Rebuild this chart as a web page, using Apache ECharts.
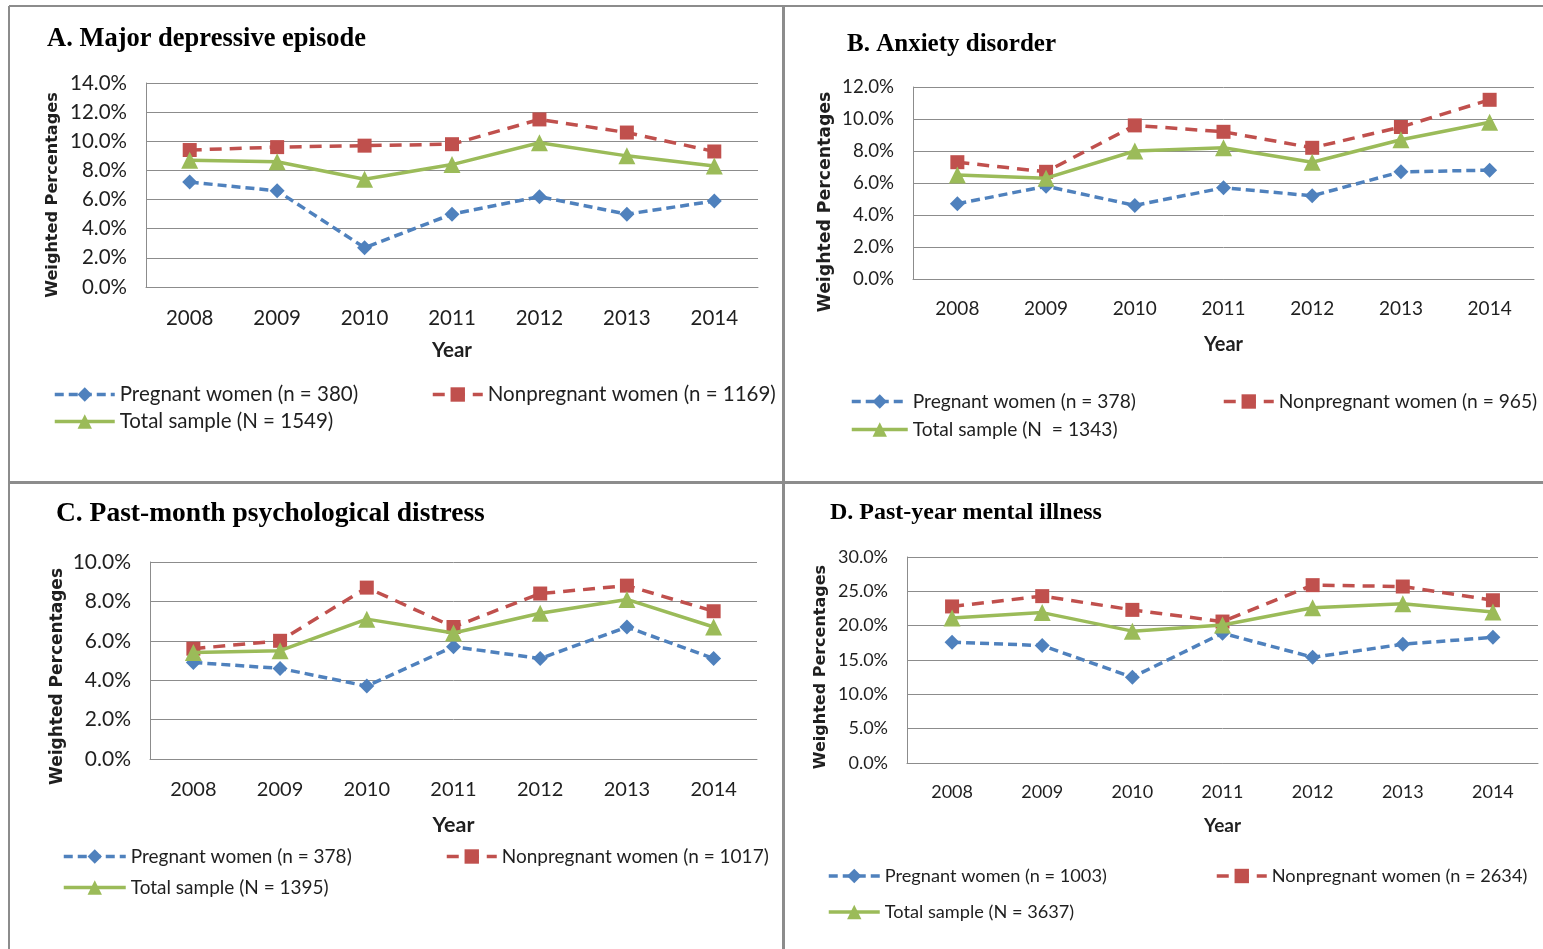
<!DOCTYPE html>
<html>
<head>
<meta charset="utf-8">
<style>
  html, body { margin: 0; padding: 0; background: #fff; }
  #container { width: 1543px; height: 949px; }
</style>
<script src="https://cdn.jsdelivr.net/npm/echarts@6/dist/echarts.min.js"></script>
</head>
<body>
<div id="container"></div>
<script>
var years = ['2008', '2009', '2010', '2011', '2012', '2013', '2014'];

// A. Major depressive episode
var pregA = [7.2, 6.6, 2.7, 5.0, 6.2, 5.0, 5.9];
var nonA = [9.4, 9.6, 9.7, 9.8, 11.5, 10.6, 9.3];
var totA = [8.7, 8.6, 7.4, 8.4, 9.9, 9.0, 8.3];
// B. Anxiety disorder
var pregB = [4.7, 5.8, 4.6, 5.7, 5.2, 6.7, 6.8];
var nonB = [7.3, 6.7, 9.6, 9.2, 8.2, 9.5, 11.2];
var totB = [6.5, 6.3, 8.0, 8.2, 7.3, 8.7, 9.8];
// C. Past-month psychological distress
var pregC = [4.9, 4.6, 3.7, 5.7, 5.1, 6.7, 5.1];
var nonC = [5.6, 6.0, 8.7, 6.7, 8.4, 8.8, 7.5];
var totC = [5.4, 5.5, 7.1, 6.4, 7.4, 8.1, 6.7];
// D. Past-year mental illness
var pregD = [17.6, 17.1, 12.5, 18.9, 15.4, 17.3, 18.3];
var nonD = [22.8, 24.3, 22.3, 20.6, 25.9, 25.7, 23.7];
var totD = [21.1, 21.9, 19.2, 20.1, 22.6, 23.2, 22.0];

var titles = ['A. Major depressive episode', 'B. Anxiety disorder',
  'C. Past-month psychological distress', 'D. Past-year mental illness'];
var legendNames = [
  ['Pregnant women (n = 380)', 'Nonpregnant women (n = 1169)', 'Total sample (N = 1549)'],
  ['Pregnant women (n = 378)', 'Nonpregnant women (n = 965)', 'Total sample (N  = 1343)'],
  ['Pregnant women (n = 378) ', 'Nonpregnant women (n = 1017)', 'Total sample (N = 1395)'],
  ['Pregnant women (n = 1003)', 'Nonpregnant women (n = 2634)', 'Total sample (N = 3637)']
];
var yMax = [14, 12, 10, 30];
var yStep = [2, 2, 2, 5];

var panelData = [[pregA, nonA, totA], [pregB, nonB, totB], [pregC, nonC, totC], [pregD, nonD, totD]];

// layout per panel (the four source panels were scaled a little differently)
var layout = [
  { grid: { left: 146, top: 83, width: 612, height: 204 }, title: [47, 26], titleSize: 26.5,
    tick: 20.5, yTick: 20.5, yName: 16.1, nameGap: 85, nameShift: 20, xMargin: 21, yearSize: 20.5, yearGap: 53,
    legSize: 20.5, leg: [[53, 384, 60], [431, 384, 50], [53, 411, 60]] },
  { grid: { left: 913, top: 87, width: 621, height: 192 }, title: [847, 32], titleSize: 25,
    tick: 19, yTick: 18.7, yName: 17.3, nameGap: 79, nameShift: 38, xMargin: 20, yearSize: 20, yearGap: 56,
    legSize: 19.2, leg: [[850, 392, 56], [1222, 392, 50], [850, 420, 56]] },
  { grid: { left: 150, top: 562, width: 607, height: 197 }, title: [56, 500], titleSize: 27.5,
    tick: 20, yTick: 21, yName: 17, nameGap: 84, nameShift: 32, xMargin: 21, yearSize: 21.5, yearGap: 55,
    legSize: 19, leg: [[62, 847, 62], [445, 847, 50], [62, 878, 62]] },
  { grid: { left: 907, top: 557, width: 631, height: 206 }, title: [830, 501], titleSize: 24,
    tick: 18, yTick: 18, yName: 16, nameGap: 78, nameShift: 14, xMargin: 20, yearSize: 19, yearGap: 53,
    legSize: 18.2, leg: [[827, 867, 51], [1215, 867, 50], [827, 903, 51]] }
];

var colors = ['#4F81BD', '#C0504D', '#9BBB59'];
var symbols = ['diamond', 'rect', 'triangle'];
var symbolSizes = [15, 14, 17];
var dashes = [[9, 5], [12, 8], 'solid'];
var textColor = '#1f1f1f';
var gridColor = '#8c8c8c';

var option = {
  backgroundColor: '#fff',
  animation: false,
  title: [],
  grid: [],
  xAxis: [],
  yAxis: [],
  legend: [],
  series: [],
  graphic: [
    { type: 'line', shape: { x1: 9, y1: 6, x2: 9, y2: 949 }, style: { stroke: '#8c8c8c', lineWidth: 2 } },
    { type: 'line', shape: { x1: 9, y1: 6, x2: 1543, y2: 6 }, style: { stroke: '#8c8c8c', lineWidth: 2 } },
    { type: 'line', shape: { x1: 783.5, y1: 6, x2: 783.5, y2: 949 }, style: { stroke: '#8c8c8c', lineWidth: 3 } },
    { type: 'line', shape: { x1: 9, y1: 482.5, x2: 1543, y2: 482.5 }, style: { stroke: '#8c8c8c', lineWidth: 3 } }
  ]
};

for (var p = 0; p < 4; p++) {
  var L = layout[p];
  option.title.push({
    text: titles[p], left: L.title[0], top: L.title[1], padding: 0,
    textStyle: { fontFamily: 'Liberation Serif', fontWeight: 'bold', fontSize: L.titleSize, color: '#000' }
  });
  option.grid.push(L.grid);
  option.xAxis.push({
    type: 'category', gridIndex: p, data: years, boundaryGap: true,
    name: 'Year', nameLocation: 'middle', nameGap: L.yearGap,
    nameTextStyle: { fontFamily: 'Lato', fontWeight: 'bold', fontSize: L.yearSize, color: textColor },
    axisLine: { lineStyle: { color: gridColor, width: 1 } },
    axisTick: { show: false },
    axisLabel: { margin: L.xMargin, fontFamily: 'Lato', fontSize: L.tick, color: textColor }
  });
  option.yAxis.push({
    type: 'value', gridIndex: p, min: 0, max: yMax[p], interval: yStep[p],
    name: 'Weighted Percentages', nameLocation: 'middle', nameGap: L.nameGap, nameRotate: 90,
    nameTextStyle: {
      fontFamily: 'DejaVu Sans', fontWeight: 'bold', fontSize: L.yName, color: textColor,
      padding: [0, L.nameShift, 0, 0]
    },
    axisLine: { show: true, lineStyle: { color: gridColor, width: 1 } },
    axisTick: { show: false },
    splitLine: { lineStyle: { color: gridColor, width: 1 } },
    axisLabel: {
      margin: 19, fontFamily: 'Lato', fontSize: L.yTick, color: textColor,
      formatter: function (v) { return v.toFixed(1) + '%'; }
    }
  });
  for (var s = 0; s < 3; s++) {
    var nm = legendNames[p][s];
    option.series.push({
      name: nm, type: 'line', xAxisIndex: p, yAxisIndex: p,
      data: panelData[p][s],
      symbol: symbols[s], symbolSize: symbolSizes[s],
      itemStyle: { color: colors[s] },
      lineStyle: { color: colors[s], width: 3.5, type: dashes[s] },
      z: s === 1 ? 3 : (s === 2 ? 4 : 2)
    });
    option.legend.push({
      data: [nm], left: L.leg[s][0], top: L.leg[s][1], padding: 0,
      itemWidth: L.leg[s][2], itemHeight: 18, itemGap: 0,
      lineStyle: { width: 3.5 },
      textStyle: { fontFamily: 'Lato', fontSize: L.legSize, color: textColor },
      selectedMode: false
    });
  }
}

var dom = document.getElementById('container');
var myChart = echarts.init(dom, null, { renderer: 'canvas' });
myChart.setOption(option);
window.addEventListener('resize', myChart.resize);
</script>
</body>
</html>
